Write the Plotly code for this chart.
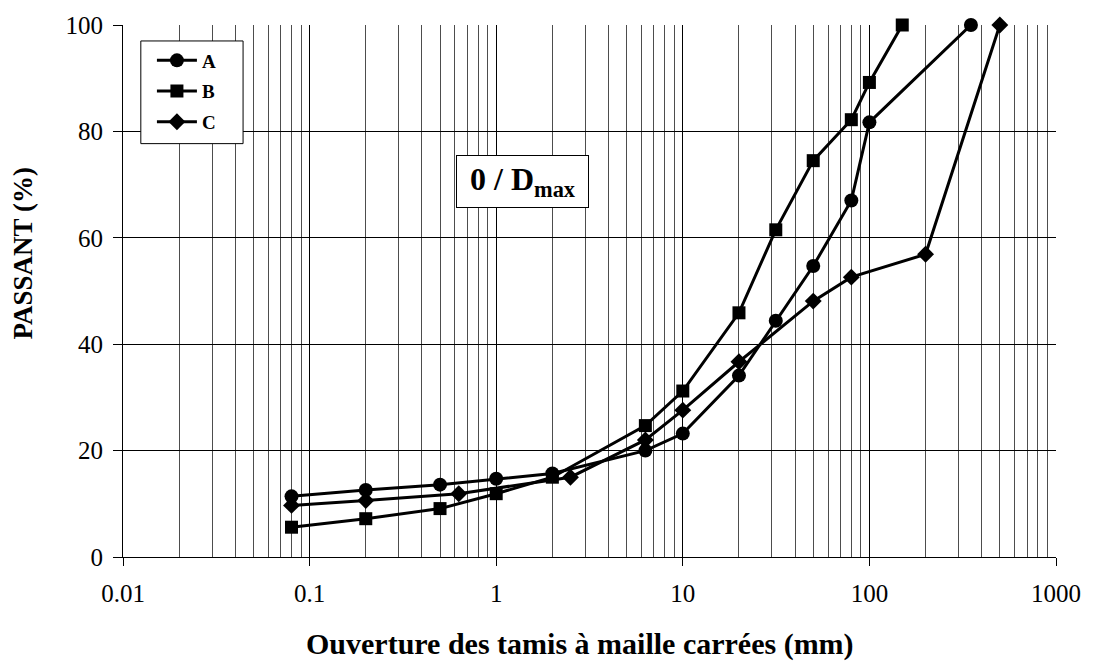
import plotly.graph_objects as go

# Sieve openings (mm) and percent passing for each material
sizes_a = [0.08, 0.2, 0.5, 1, 2, 6.3, 10, 20, 31.5, 50, 80, 100, 350]
pass_a = [11.4, 12.6, 13.6, 14.7, 15.7, 20.0, 23.2, 34.1, 44.4, 54.7, 67.0, 81.7, 100]

sizes_b = [0.08, 0.2, 0.5, 1, 2, 6.3, 10, 20, 31.5, 50, 80, 100, 150]
pass_b = [5.6, 7.2, 9.1, 11.9, 15.0, 24.7, 31.2, 45.9, 61.5, 74.5, 82.2, 89.2, 100]

sizes_c = [0.08, 0.2, 0.63, 2.5, 6.3, 10, 20, 50, 80, 200, 500]
pass_c = [9.7, 10.6, 11.9, 15.0, 22.0, 27.6, 36.7, 48.1, 52.6, 56.9, 100]

x_ticks = [0.01, 0.1, 1, 10, 100, 1000]
x_tick_text = ["0.01", "0.1", "1", "10", "100", "1000"]
y_ticks = [0, 20, 40, 60, 80, 100]

FONT = "Liberation Serif"

minor_vals = [m * 10 ** e for e in range(-2, 3) for m in range(2, 10)]

fig = go.Figure()
series = [
    ("A", sizes_a, pass_a, "circle", 14),
    ("B", sizes_b, pass_b, "square", 13),
    ("C", sizes_c, pass_c, "diamond", 13),
]
for name, xs, ys, sym, sz in series:
    fig.add_trace(go.Scatter(
        x=xs, y=ys, name=name, legendgroup=name, mode="lines+markers",
        line=dict(color="black", width=3),
        marker=dict(symbol=sym, size=sz, color="black"),
        cliponaxis=False,
    ))

# Framed white panel behind the legend entries
fig.add_shape(
    type="rect", xref="paper", yref="paper",
    x0=0.0191, x1=0.1287, y0=0.777, y1=0.970,
    fillcolor="white", line=dict(color="black", width=1), layer="above",
)

fig.update_layout(
    width=1093, height=663,
    margin=dict(l=123, r=30, t=23, b=106),
    paper_bgcolor="white", plot_bgcolor="white",
    font=dict(family=FONT, color="black", size=22),
    showlegend=True,
    legend=dict(
        x=0.031, y=0.969, xanchor="left", yanchor="top",
        bgcolor="rgba(0,0,0,0)", borderwidth=0,
        font=dict(family=FONT, size=19, color="black", weight="bold"),
        itemwidth=40, tracegroupgap=3,
    ),
    xaxis=dict(
        type="log", range=[-2, 3],
        tickvals=x_ticks, ticktext=x_tick_text,
        tickfont=dict(family=FONT, size=25),
        ticks="outside", ticklen=8, tickcolor="black", tickwidth=1,
        ticklabelstandoff=6,
        showgrid=True, gridcolor="black", gridwidth=1,
        minor=dict(tickvals=minor_vals, showgrid=True, gridcolor="#4d4d4d",
                   gridwidth=1, ticks=""),
        showline=True, linecolor="black", linewidth=1,
        zeroline=False,
    ),
    yaxis=dict(
        range=[0, 100], tickvals=y_ticks,
        tickfont=dict(family=FONT, size=25),
        ticks="outside", ticklen=9, tickcolor="black", tickwidth=1,
        ticklabelstandoff=5,
        showgrid=True, gridcolor="black", gridwidth=1,
        showline=True, linecolor="black", linewidth=1,
        zeroline=False,
    ),
)

fig.add_annotation(
    text="<b>PASSANT (%)</b>", textangle=-90,
    xref="paper", yref="paper", x=-0.107, y=0.571,
    xanchor="center", yanchor="middle", showarrow=False,
    font=dict(family=FONT, size=27, color="black"),
)
fig.add_annotation(
    text="<b>Ouverture des tamis à maille carrées (mm)</b>",
    xref="paper", yref="paper", x=0.49, y=-0.164,
    xanchor="center", yanchor="middle", showarrow=False,
    font=dict(family=FONT, size=30, color="black"),
)
fig.add_annotation(
    text="<b>\u00a00 / D<sub>max</sub>\u00a0</b>",
    xref="paper", yref="paper", x=0.428, y=0.706,
    xanchor="center", yanchor="middle", showarrow=False,
    font=dict(family=FONT, size=32, color="black"),
    bgcolor="white", bordercolor="black", borderwidth=1, borderpad=5,
)

fig.write_html("out.html")
